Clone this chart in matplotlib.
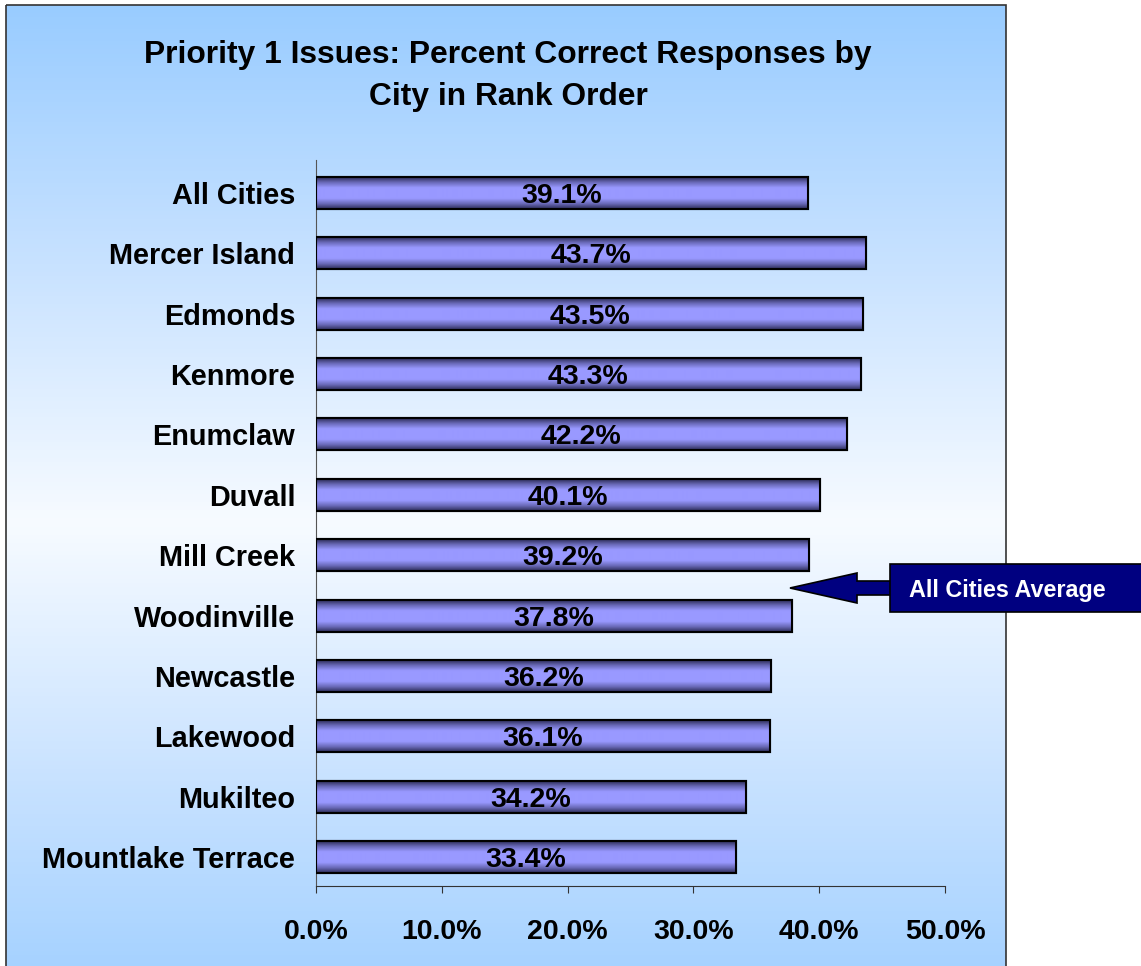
import matplotlib
matplotlib.use("Agg")
import matplotlib.pyplot as plt
import numpy as np
from matplotlib.colors import LinearSegmentedColormap
from matplotlib.patches import Rectangle, Polygon

plt.rcParams['font.family'] = ['Liberation Sans', 'DejaVu Sans']
plt.rcParams['font.weight'] = 'bold'

cities = ["All Cities", "Mercer Island", "Edmonds", "Kenmore", "Enumclaw", "Duvall",
          "Mill Creek", "Woodinville", "Newcastle", "Lakewood", "Mukilteo", "Mountlake Terrace"]
pct = [39.1, 43.7, 43.5, 43.3, 42.2, 40.1, 39.2, 37.8, 36.2, 36.1, 34.2, 33.4]
xticks = [0, 10, 20, 30, 40, 50]
title1 = "Priority 1 Issues: Percent Correct Responses by"
title2 = "City in Rank Order"
note = "All Cities Average"

W, H = 1141, 966
fig = plt.figure(figsize=(W / 100, H / 100), dpi=100)

# background panel with vertical blue-white-blue gradient
bg = fig.add_axes([0, 0, 1, 1], zorder=-1)
bg.set_xlim(0, W); bg.set_ylim(H, 0); bg.axis("off")
bgcmap = LinearSegmentedColormap.from_list("bg", ["#99ccff", "#c8e2ff", "#f7fbff", "#c8e2ff", "#99ccff"])
grad = np.linspace(0, 1, 256).reshape(-1, 1)
bg.imshow(grad, extent=[6, 1006, 1040, 5], cmap=bgcmap, aspect="auto")
bg.add_patch(Rectangle((6, 5), 1000, 1100, fill=False, edgecolor="#333333", lw=1.2))
bg.set_xlim(0, W); bg.set_ylim(H, 0)

ax = fig.add_axes([316 / W, 1 - 886 / H, (945 - 316) / W, (886 - 160) / H])
ax.set_facecolor("none")
y = np.arange(len(cities))
bh = 0.53
bars = ax.barh(y, pct, height=bh, color="#9999ff", edgecolor="black", lw=1.5, zorder=2)

barcmap = LinearSegmentedColormap.from_list("bar", ["#2a2a55", "#6a6ab8", "#9999ff", "#9999ff", "#9999ff", "#6a6ab8", "#2a2a55"])
for b, v, yy in zip(bars, pct, y):
    im = ax.imshow(grad, extent=[0, v, yy + bh / 2, yy - bh / 2], cmap=barcmap, aspect="auto", zorder=2.5)
    im.set_clip_path(b)
    ax.text(v / 2, yy, f"{v:.1f}%", ha="center", va="center_baseline", fontsize=20.5, fontweight="bold", zorder=4)
    ax.add_patch(Rectangle((0, yy - bh / 2), v, bh, fill=False, edgecolor="black", lw=1.5, zorder=3))

ax.set_xlim(0, 50)
ax.set_ylim(len(cities) - 0.52, -0.545)
ax.set_yticks(y)
ax.set_yticklabels(cities, fontsize=20.8, fontweight="bold")
ax.set_xticks(xticks)
ax.set_xticklabels([f"{t:.1f}%" for t in xticks], fontsize=20.5, fontweight="bold")
ax.tick_params(axis="y", length=0, pad=15)
ax.tick_params(axis="x", length=5, direction="out", pad=19, color="#333333")
for s in ["top", "right"]:
    ax.spines[s].set_visible(False)
ax.spines["left"].set_color("#555555")
ax.spines["bottom"].set_color("#333333")

fig.text(508 / W, 1 - 55 / H, title1, ha="center", va="center", fontsize=22.9, fontweight="bold")
fig.text(508 / W, 1 - 97 / H, title2, ha="center", va="center", fontsize=22.9, fontweight="bold")

# callout arrow and box
ov = fig.add_axes([0, 0, 1, 1], zorder=5)
ov.set_xlim(0, W); ov.set_ylim(H, 0); ov.axis("off")
ov.add_patch(Polygon([(790, 588), (857, 573), (857, 581), (892, 581), (892, 595), (857, 595), (857, 603)],
                     closed=True, facecolor="#000080", edgecolor="black", lw=1.2))
ov.add_patch(Rectangle((890, 564), 260, 48, facecolor="#000080", edgecolor="black", lw=1.2))
ov.text(1007, 588, note, ha="center", va="center_baseline", color="white", fontsize=16.8, fontweight="bold")

fig.savefig("out.png", dpi=100)
